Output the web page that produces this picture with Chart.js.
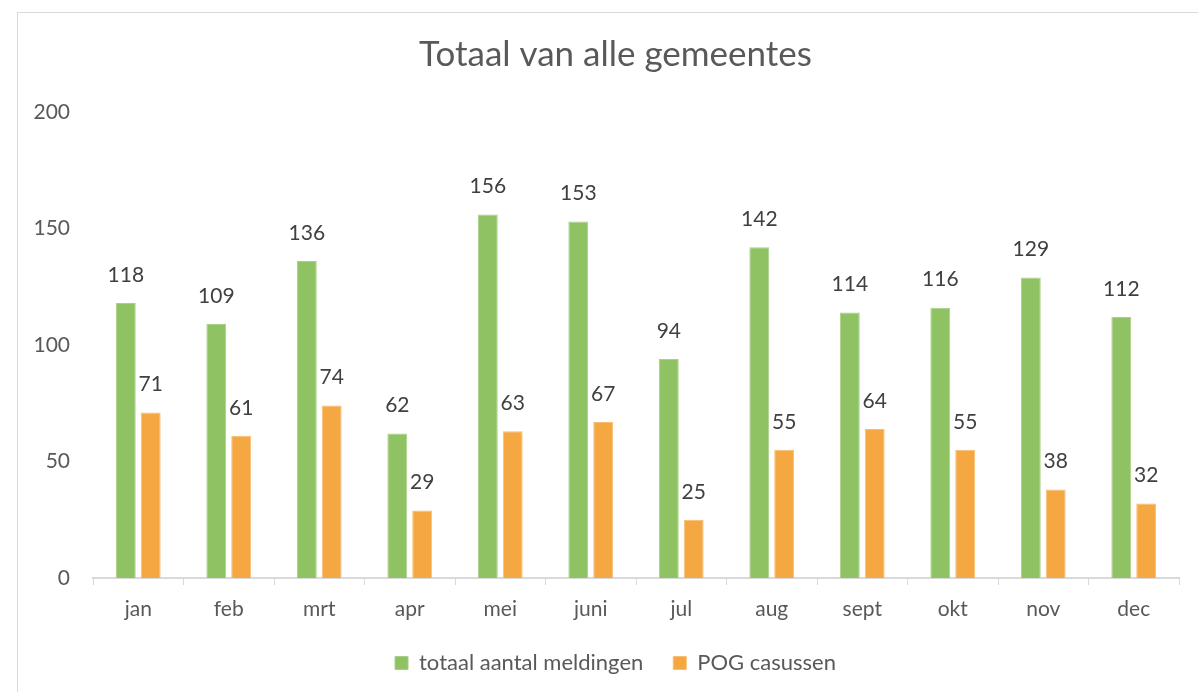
<!DOCTYPE html>
<html>
<head>
<meta charset="utf-8">
<script src="https://cdn.jsdelivr.net/npm/chart.js@4/dist/chart.umd.min.js"></script>
<style>
  html, body { margin: 0; padding: 0; background: #ffffff; overflow: hidden; }
  #frame { position: absolute; left: 17px; top: 12px; width: 1300px; height: 800px; border: 1px solid #d9d9d9; }
  #wrap { position: absolute; left: 0; top: 0; width: 1198px; height: 692px; }
</style>
</head>
<body>
<div id="frame"></div>
<div id="wrap"><canvas id="c" width="1198" height="692"></canvas></div>
<script>
const titleText = 'Totaal van alle gemeentes';
const months = ['jan', 'feb', 'mrt', 'apr', 'mei', 'juni', 'jul', 'aug', 'sept', 'okt', 'nov', 'dec'];
const seriesNames = ['totaal aantal meldingen', 'POG casussen'];
const totaalMeldingen = [118, 109, 136, 62, 156, 153, 94, 142, 114, 116, 129, 112];
const pogCasussen = [71, 61, 74, 29, 63, 67, 25, 55, 64, 55, 38, 32];
const yTicks = [0, 50, 100, 150, 200];

const FONT = 'Lato, "Liberation Sans", sans-serif';
const TEXT = '#595959';

const dataLabels = {
  id: 'dataLabels',
  afterDatasetsDraw(chart) {
    const ctx = chart.ctx;
    ctx.save();
    ctx.font = '21px ' + FONT;
    ctx.fillStyle = '#404040';
    ctx.textAlign = 'center';
    ctx.textBaseline = 'middle';
    chart.data.datasets.forEach((ds, i) => {
      const meta = chart.getDatasetMeta(i);
      meta.data.forEach((bar, j) => {
        ctx.fillText(String(ds.data[j]), bar.x, bar.y - 28);
      });
    });
    ctx.restore();
  }
};

new Chart(document.getElementById('c'), {
  type: 'bar',
  data: {
    labels: months,
    datasets: [
      { label: seriesNames[0], data: totaalMeldingen, backgroundColor: '#8fc262', borderColor: '#a9d087', borderWidth: 1 },
      { label: seriesNames[1], data: pogCasussen, backgroundColor: '#f5a742', borderColor: '#f8bd72', borderWidth: 1 }
    ]
  },
  options: {
    responsive: false,
    animation: false,
    devicePixelRatio: 1,
    categoryPercentage: 0.55,
    barPercentage: 0.8,
    layout: { padding: { left: 33, right: 0, top: 0, bottom: 8 } },
    plugins: {
      title: {
        display: true,
        text: titleText,
        color: TEXT,
        font: { family: FONT, size: 35, weight: 'normal' },
        padding: { top: 34, bottom: 36 }
      },
      legend: {
        display: true,
        position: 'bottom',
        labels: {
          color: TEXT,
          font: { family: FONT, size: 22 },
          boxWidth: 13,
          boxHeight: 13,
          padding: 30
        }
      },
      tooltip: { enabled: false }
    },
    scales: {
      x: {
        offset: true,
        grid: { display: true, drawOnChartArea: false, drawTicks: true, tickLength: 7, color: '#d9d9d9', offset: true },
        border: { display: true, color: '#d9d9d9', width: 2 },
        ticks: { color: TEXT, font: { family: FONT, size: 21 }, padding: 12 },
        afterFit(scale) { scale.height = 44; }
      },
      y: {
        min: 0,
        max: 200,
        afterBuildTicks(scale) { scale.ticks = yTicks.map(v => ({ value: v })); },
        grid: { display: false, drawTicks: false },
        border: { display: false },
        ticks: { color: TEXT, font: { family: FONT, size: 21 }, padding: 23 },
        afterFit(scale) { scale.width = 60; }
      },
      yRight: {
        position: 'right',
        display: true,
        grid: { display: false, drawTicks: false },
        border: { display: false },
        ticks: { display: false },
        afterFit(scale) { scale.width = 19; }
      }
    }
  },
  plugins: [dataLabels]
});
</script>
</body>
</html>
